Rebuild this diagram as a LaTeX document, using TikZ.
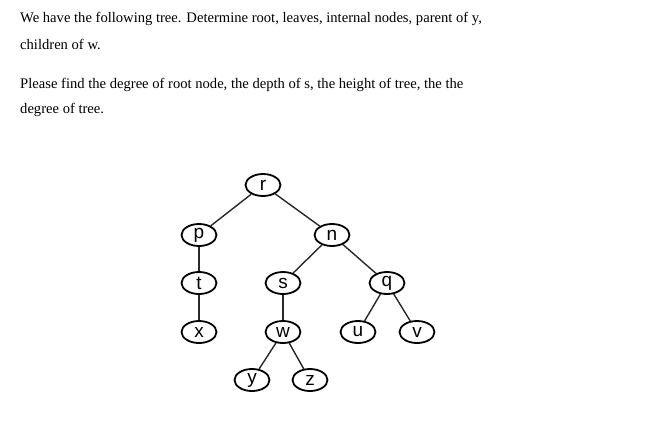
\documentclass[tikz,border=0pt]{standalone}
\usepackage{fontspec}
\setmainfont{Liberation Serif}
\newfontfamily\labelfont{Liberation Sans}
\usepackage{xcolor}
\usetikzlibrary{shapes.geometric,positioning}
\definecolor{treeLine}{RGB}{40,40,40}
\tikzset{
  vert/.style={draw=black, ellipse, line width=1.8pt, minimum width=35pt, minimum height=22pt,
    inner sep=0pt, font=\labelfont\fontsize{19}{19}\selectfont},
  edge/.style={treeLine, line width=1.4pt},
  para/.style={anchor=base west, inner sep=0pt,
    font=\fontsize{14.6}{17}\selectfont}
}
\begin{document}
\begin{tikzpicture}[x=1pt, y=1pt]
\useasboundingbox (0,0) rectangle (661,-421);
% question text
\node[para] (qone) at (20,-22) {We have the following tree. Determine root, leaves, internal nodes, parent of y,};
\node[para] (qonec) at (20,-49) {children of w.};
\node[para] (qtwo) at (20,-88) {Please find the degree of root node, the depth of s, the height of tree, the the};
\node[para] (qtwoc) at (20,-113) {degree of tree.};
% tree
\node[vert] (r) at (263,-185) {r};
\node[vert] (p) at (199,-235) {p};
\node[vert] (n) at (332,-235) {n};
\node[vert] (t) at (199,-283) {t};
\node[vert] (s) at (283,-283) {s};
\node[vert] (q) at (387,-283) {q};
\node[vert] (x) at (199,-332) {x};
\node[vert] (w) at (283,-332) {w};
\node[vert] (u) at (358,-332) {u};
\node[vert] (v) at (417,-332) {v};
\node[vert] (y) at (252,-380) {y};
\node[vert] (z) at (310,-380) {z};
\draw[edge] (r) -- (p);
\draw[edge] (r) -- (n);
\draw[edge] (p) -- (t);
\draw[edge] (t) -- (x);
\draw[edge] (n) -- (s);
\draw[edge] (n) -- (q);
\draw[edge] (s) -- (w);
\draw[edge] (w) -- (y);
\draw[edge] (w) -- (z);
\draw[edge] (q) -- (u);
\draw[edge] (q) -- (v);
\end{tikzpicture}
\end{document}
